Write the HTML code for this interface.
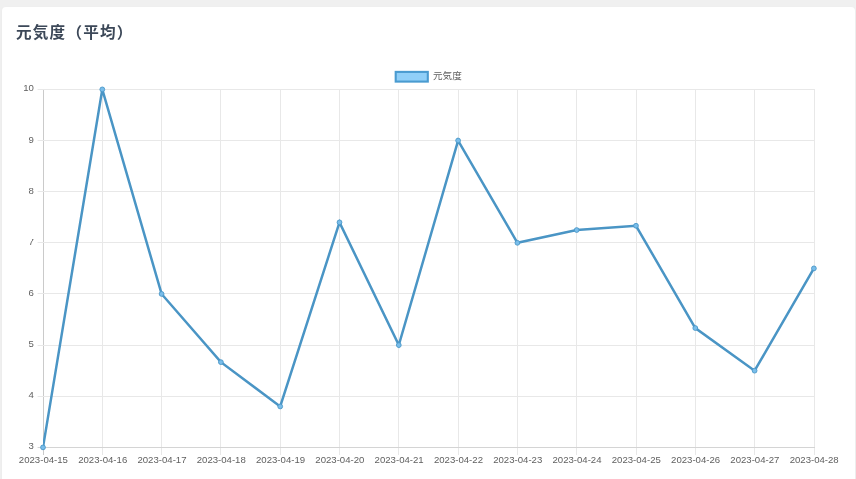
<!DOCTYPE html>
<html lang="ja"><head><meta charset="utf-8"><title>元気度（平均）</title>
<style>
html,body{margin:0;padding:0}
body{width:856px;height:479px;overflow:hidden;background:#f0f0f0;position:relative;font-family:"Liberation Sans","Noto Sans CJK JP",sans-serif}
.card{position:absolute;left:2px;top:7px;width:853px;height:480px;background:#fff;border-radius:4px;box-shadow:0 1px 3px rgba(0,0,0,0.04)}
h4{position:absolute;left:16px;top:20.5px;margin:0;font-size:15.6px;letter-spacing:1.2px;line-height:24px;font-weight:bold;color:#3c4858;white-space:nowrap}
.t{font-family:"Liberation Sans","Noto Sans CJK JP",sans-serif}
</style></head><body>
<div class="card"></div>
<h4>元気度（平均）</h4>
<svg width="856" height="479" viewBox="0 0 856 479" style="position:absolute;left:0;top:0">
<rect x="395.7" y="71.9" width="32.1" height="9.7" fill="#90cff8" stroke="#4a9bd0" stroke-width="2.1"/>
<text x="433" y="79.0" font-size="9.6" fill="#5f5f5f" class="t">元気度</text>
<g><line x1="43.50" y1="89.00" x2="43.50" y2="455.00" stroke="#cacaca" stroke-width="1"/><line x1="102.50" y1="89.00" x2="102.50" y2="455.00" stroke="#e8e8e8" stroke-width="1"/><line x1="161.50" y1="89.00" x2="161.50" y2="455.00" stroke="#e8e8e8" stroke-width="1"/><line x1="220.50" y1="89.00" x2="220.50" y2="455.00" stroke="#e8e8e8" stroke-width="1"/><line x1="280.50" y1="89.00" x2="280.50" y2="455.00" stroke="#e8e8e8" stroke-width="1"/><line x1="339.50" y1="89.00" x2="339.50" y2="455.00" stroke="#e8e8e8" stroke-width="1"/><line x1="398.50" y1="89.00" x2="398.50" y2="455.00" stroke="#e8e8e8" stroke-width="1"/><line x1="458.50" y1="89.00" x2="458.50" y2="455.00" stroke="#e8e8e8" stroke-width="1"/><line x1="517.50" y1="89.00" x2="517.50" y2="455.00" stroke="#e8e8e8" stroke-width="1"/><line x1="576.50" y1="89.00" x2="576.50" y2="455.00" stroke="#e8e8e8" stroke-width="1"/><line x1="636.50" y1="89.00" x2="636.50" y2="455.00" stroke="#e8e8e8" stroke-width="1"/><line x1="695.50" y1="89.00" x2="695.50" y2="455.00" stroke="#e8e8e8" stroke-width="1"/><line x1="754.50" y1="89.00" x2="754.50" y2="455.00" stroke="#e8e8e8" stroke-width="1"/><line x1="814.50" y1="89.00" x2="814.50" y2="455.00" stroke="#e8e8e8" stroke-width="1"/><line x1="37.60" y1="447.50" x2="815.00" y2="447.50" stroke="#d4d4d4" stroke-width="1"/><line x1="37.60" y1="396.50" x2="815.00" y2="396.50" stroke="#e8e8e8" stroke-width="1"/><line x1="37.60" y1="345.50" x2="815.00" y2="345.50" stroke="#e8e8e8" stroke-width="1"/><line x1="37.60" y1="293.50" x2="815.00" y2="293.50" stroke="#e8e8e8" stroke-width="1"/><line x1="37.60" y1="242.50" x2="815.00" y2="242.50" stroke="#e8e8e8" stroke-width="1"/><line x1="37.60" y1="191.50" x2="815.00" y2="191.50" stroke="#e8e8e8" stroke-width="1"/><line x1="37.60" y1="140.50" x2="815.00" y2="140.50" stroke="#e8e8e8" stroke-width="1"/><line x1="37.60" y1="89.50" x2="815.00" y2="89.50" stroke="#e8e8e8" stroke-width="1"/></g>
<text x="33.9" y="449.38" font-size="9.6" fill="#5f5f5f" text-anchor="end" class="t">3</text>
<text x="33.9" y="398.24" font-size="9.6" fill="#5f5f5f" text-anchor="end" class="t">4</text>
<text x="33.9" y="347.10" font-size="9.6" fill="#5f5f5f" text-anchor="end" class="t">5</text>
<text x="33.9" y="295.96" font-size="9.6" fill="#5f5f5f" text-anchor="end" class="t">6</text>
<text x="33.9" y="244.82" font-size="9.6" fill="#5f5f5f" text-anchor="end" class="t">7</text>
<text x="33.9" y="193.68" font-size="9.6" fill="#5f5f5f" text-anchor="end" class="t">8</text>
<text x="33.9" y="142.54" font-size="9.6" fill="#5f5f5f" text-anchor="end" class="t">9</text>
<text x="33.9" y="91.40" font-size="9.6" fill="#5f5f5f" text-anchor="end" class="t">10</text>
<text x="43.40" y="463.4" font-size="9.6" fill="#5f5f5f" text-anchor="middle" class="t">2023-04-15</text>
<text x="102.69" y="463.4" font-size="9.6" fill="#5f5f5f" text-anchor="middle" class="t">2023-04-16</text>
<text x="161.98" y="463.4" font-size="9.6" fill="#5f5f5f" text-anchor="middle" class="t">2023-04-17</text>
<text x="221.27" y="463.4" font-size="9.6" fill="#5f5f5f" text-anchor="middle" class="t">2023-04-18</text>
<text x="280.56" y="463.4" font-size="9.6" fill="#5f5f5f" text-anchor="middle" class="t">2023-04-19</text>
<text x="339.85" y="463.4" font-size="9.6" fill="#5f5f5f" text-anchor="middle" class="t">2023-04-20</text>
<text x="399.14" y="463.4" font-size="9.6" fill="#5f5f5f" text-anchor="middle" class="t">2023-04-21</text>
<text x="458.43" y="463.4" font-size="9.6" fill="#5f5f5f" text-anchor="middle" class="t">2023-04-22</text>
<text x="517.72" y="463.4" font-size="9.6" fill="#5f5f5f" text-anchor="middle" class="t">2023-04-23</text>
<text x="577.01" y="463.4" font-size="9.6" fill="#5f5f5f" text-anchor="middle" class="t">2023-04-24</text>
<text x="636.30" y="463.4" font-size="9.6" fill="#5f5f5f" text-anchor="middle" class="t">2023-04-25</text>
<text x="695.59" y="463.4" font-size="9.6" fill="#5f5f5f" text-anchor="middle" class="t">2023-04-26</text>
<text x="754.88" y="463.4" font-size="9.6" fill="#5f5f5f" text-anchor="middle" class="t">2023-04-27</text>
<text x="814.17" y="463.4" font-size="9.6" fill="#5f5f5f" text-anchor="middle" class="t">2023-04-28</text>
<rect x="27.5" y="237.5" width="4.6" height="2.9" fill="#fff"/>
<clipPath id="ca"><rect x="43" y="89" width="771.4" height="358.8"/></clipPath>
<polyline clip-path="url(#ca)" points="43.00,447.38 102.30,89.40 161.60,293.96 220.90,362.15 280.20,406.47 339.50,222.36 398.80,345.10 458.10,140.54 517.40,242.82 576.70,230.03 636.00,225.77 695.30,328.05 754.60,370.67 813.90,268.39" fill="none" stroke="#4a95c5" stroke-width="2.5" stroke-linejoin="miter" stroke-miterlimit="10" stroke-linecap="butt"/>
<circle cx="43.00" cy="447.38" r="2.4" fill="#79bdea" stroke="#4a97c8" stroke-width="0.9"/>
<circle cx="102.30" cy="89.40" r="2.4" fill="#79bdea" stroke="#4a97c8" stroke-width="0.9"/>
<circle cx="161.60" cy="293.96" r="2.4" fill="#79bdea" stroke="#4a97c8" stroke-width="0.9"/>
<circle cx="220.90" cy="362.15" r="2.4" fill="#79bdea" stroke="#4a97c8" stroke-width="0.9"/>
<circle cx="280.20" cy="406.47" r="2.4" fill="#79bdea" stroke="#4a97c8" stroke-width="0.9"/>
<circle cx="339.50" cy="222.36" r="2.4" fill="#79bdea" stroke="#4a97c8" stroke-width="0.9"/>
<circle cx="398.80" cy="345.10" r="2.4" fill="#79bdea" stroke="#4a97c8" stroke-width="0.9"/>
<circle cx="458.10" cy="140.54" r="2.4" fill="#79bdea" stroke="#4a97c8" stroke-width="0.9"/>
<circle cx="517.40" cy="242.82" r="2.4" fill="#79bdea" stroke="#4a97c8" stroke-width="0.9"/>
<circle cx="576.70" cy="230.03" r="2.4" fill="#79bdea" stroke="#4a97c8" stroke-width="0.9"/>
<circle cx="636.00" cy="225.77" r="2.4" fill="#79bdea" stroke="#4a97c8" stroke-width="0.9"/>
<circle cx="695.30" cy="328.05" r="2.4" fill="#79bdea" stroke="#4a97c8" stroke-width="0.9"/>
<circle cx="754.60" cy="370.67" r="2.4" fill="#79bdea" stroke="#4a97c8" stroke-width="0.9"/>
<circle cx="813.90" cy="268.39" r="2.4" fill="#79bdea" stroke="#4a97c8" stroke-width="0.9"/>
</svg>
</body></html>
